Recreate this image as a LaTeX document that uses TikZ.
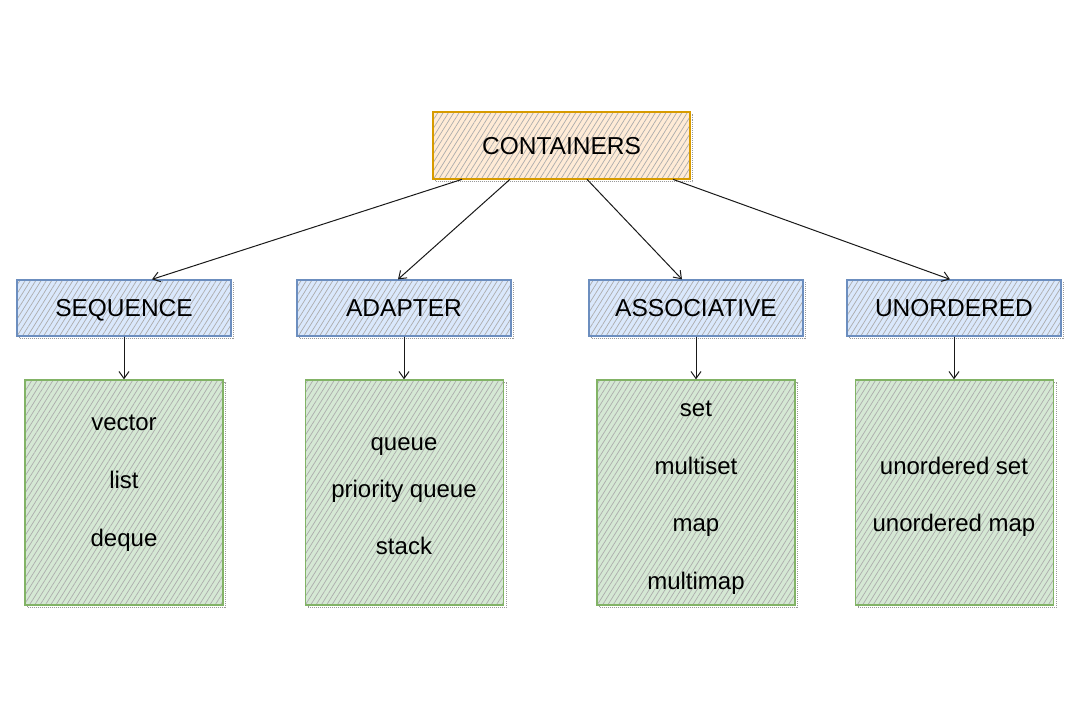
\documentclass[tikz,border=0pt]{standalone}
\usepackage{fontspec}
\setmainfont{Liberation Sans}
\usetikzlibrary{arrows.meta,patterns.meta,shadows,calc}
\definecolor{orangeline}{HTML}{D79B00}
\definecolor{orangefill}{HTML}{FFE6CC}
\definecolor{blueline}{HTML}{6C8EBF}
\definecolor{bluefill}{HTML}{DAE8FC}
\definecolor{greenline}{HTML}{82B366}
\definecolor{greenfill}{HTML}{D5E8D4}
\tikzset{
  sketch/.style={rectangle, line width=1.3pt, inner sep=0pt,
    general shadow={draw=gray!80, densely dotted, line width=1pt, shadow xshift=2.5pt, shadow yshift=-2.5pt},
    pattern={Lines[angle=58,distance=4.5pt,line width=0.7pt]}, pattern color=gray!65},
  topbox/.style={sketch, draw=orangeline, preaction={fill=orangefill!80}, minimum width=257, minimum height=67},
  groupbox/.style={sketch, draw=blueline, preaction={fill=bluefill}, minimum width=214, minimum height=56},
  listbox/.style={sketch, draw=greenline, preaction={fill=greenfill}, minimum width=198, minimum height=225},
  label/.style={font=\fontsize{24.5}{28}\selectfont, text=black, text height=17.5pt, text depth=0pt},
  item/.style={font=\fontsize{24}{28}\selectfont, text=black, text height=12.5pt, text depth=0pt},
  arr/.style={line width=1pt, black!90, -{Straight Barb[length=7pt,width=10pt]}}
}
\begin{document}
\begin{tikzpicture}[x=1pt, y=-1pt]
			%%%%% START %%%%%
			\useasboundingbox (0, 0) rectangle (1080, 720);

			\node[topbox] (cont) at (561.5, 145.5) {};
			\node[label] (conttext) at (cont) {CONTAINERS};

			\node[groupbox, label] (seq) at (124, 308) {SEQUENCE};
			\node[groupbox, label] (adp) at (404, 308) {ADAPTER};
			\node[groupbox, label] (asc) at (696, 308) {ASSOCIATIVE};
			\node[groupbox, label] (uno) at (954, 308) {UNORDERED};

			\node[listbox] (seqlist) at (124, 492.5) {};
			\node[listbox] (adplist) at (404.5, 492.5) {};
			\node[listbox] (asclist) at (696, 492.5) {};
			\node[listbox] (unolist) at (954.5, 492.5) {};

			\node[item] (vector) at (124, 424) {vector};
			\node[item] (list) at (124, 482) {list};
			\node[item] (deque) at (124, 540) {deque};

			\node[item] (queue) at (404, 444) {queue};
			\node[item] (prio) at (404, 491) {priority queue};
			\node[item] (stack) at (404, 548) {stack};

			\node[item] (set) at (696, 410) {set};
			\node[item] (mset) at (696, 468) {multiset};
			\node[item] (map) at (696, 525) {map};
			\node[item] (mmap) at (696, 583) {multimap};

			\node[item] (uset) at (954, 468) {unordered set};
			\node[item] (umap) at (954, 525) {unordered map};

			\draw[arr] ([xshift=-99.5pt]cont.south) -- ([xshift=28pt]seq.north);
			\draw[arr] ([xshift=-51.5pt]cont.south) -- ([xshift=-6pt]adp.north);
			\draw[arr] ([xshift=25.5pt]cont.south) -- ([xshift=-14pt]asc.north);
			\draw[arr] ([xshift=111.5pt]cont.south) -- ([xshift=-4pt]uno.north);

			\draw[arr] (seq.south) -- (seq.south |- seqlist.north);
			\draw[arr] (adp.south) -- (adp.south |- adplist.north);
			\draw[arr] (asc.south) -- (asc.south |- asclist.north);
			\draw[arr] (uno.south) -- (uno.south |- unolist.north);

			%%%%% END %%%%%
\end{tikzpicture}
\end{document}
